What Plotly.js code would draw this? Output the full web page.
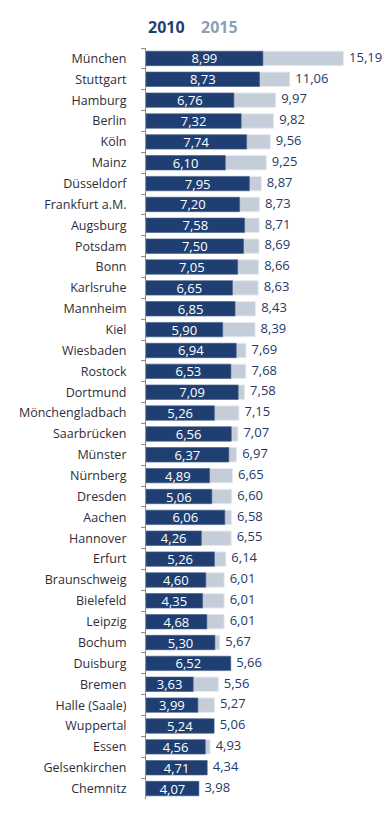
<!DOCTYPE html>
<html>
<head>
<meta charset="utf-8">
<script src="https://cdn.plot.ly/plotly-3.0.1.min.js"></script>
<style>html,body{margin:0;padding:0;background:#fff;}#chart{width:390px;height:813px;}</style>
</head>
<body>
<div id="chart"></div>
<script>
const cities = ["München","Stuttgart","Hamburg","Berlin","Köln","Mainz","Düsseldorf","Frankfurt a.M.","Augsburg","Potsdam","Bonn","Karlsruhe","Mannheim","Kiel","Wiesbaden","Rostock","Dortmund","Mönchengladbach","Saarbrücken","Münster","Nürnberg","Dresden","Aachen","Hannover","Erfurt","Braunschweig","Bielefeld","Leipzig","Bochum","Duisburg","Bremen","Halle (Saale)","Wuppertal","Essen","Gelsenkirchen","Chemnitz"];
const values2010 = [8.99,8.73,6.76,7.32,7.74,6.10,7.95,7.20,7.58,7.50,7.05,6.65,6.85,5.90,6.94,6.53,7.09,5.26,6.56,6.37,4.89,5.06,6.06,4.26,5.26,4.60,4.35,4.68,5.30,6.52,3.63,3.99,5.24,4.56,4.71,4.07];
const values2015 = [15.19,11.06,9.97,9.82,9.56,9.25,8.87,8.73,8.71,8.69,8.66,8.63,8.43,8.39,7.69,7.68,7.58,7.15,7.07,6.97,6.65,6.60,6.58,6.55,6.14,6.01,6.01,6.01,5.67,5.66,5.56,5.27,5.06,4.93,4.34,3.98];
const seriesNames = ["2010","2015"];

const navy = "#1f3f72";
const light = "#c5cdd9";
const font = "Open Sans, Noto Sans, sans-serif";

const labelPos = values2015.map((v,i)=>Math.max(v, values2010[i]));
const label2015 = values2015.map(v=>'\u2009 ' + v.toFixed(2).replace('.', ','));

const traces = [
  {type:'bar', orientation:'h', name:seriesNames[1], y:cities, x:values2015,
   marker:{color:light, line:{color:'#e6eaf0', width:1}}, hoverinfo:'x+y'},
  {type:'bar', orientation:'h', name:seriesNames[0], y:cities, x:values2010,
   marker:{color:navy, line:{color:'#4a6088', width:0.6}},
   texttemplate:'%{x:.2f}', textposition:'inside', insidetextanchor:'middle',
   constraintext:'none', textangle:0,
   textfont:{color:'#ffffff', size:13, family:font}, hoverinfo:'x+y'},
  {type:'scatter', mode:'text', y:cities, x:labelPos, text:label2015,
   textposition:'middle right', textfont:{color:'#1f3a66', size:13, family:font},
   cliponaxis:false, hoverinfo:'skip', showlegend:false}
];

const layout = {
  width:390, height:813,
  margin:{l:146, r:40, t:48, b:14},
  barmode:'overlay', bargap:0.31,
  separators:',.',
  showlegend:false,
  uniformtext:{mode:false},
  paper_bgcolor:'#fff', plot_bgcolor:'#fff',
  font:{family:font, size:12, color:'#333'},
  xaxis:{range:[0,15.69], visible:false, fixedrange:true},
  yaxis:{range:[cities.length-0.5, -0.5], autorange:false, type:'category', showline:true, linecolor:'#8c8c8c', linewidth:1,
         ticks:'outside', tickson:'boundaries', ticklen:4, tickcolor:'#8c8c8c',
         ticklabelstandoff:16, tickfont:{size:12.5, color:'#2e2e38', family:font},
         showgrid:false, zeroline:false},
  annotations:[
    {text:'<b>'+seriesNames[0]+'</b>', xref:'paper', yref:'paper', x:0, y:1, yshift:21, xanchor:'left', yanchor:'middle', showarrow:false, font:{size:16, color:navy, family:font}},
    {text:'<b>'+seriesNames[1]+'</b>', xref:'paper', yref:'paper', x:0, y:1, xshift:53, yshift:21, xanchor:'left', yanchor:'middle', showarrow:false, font:{size:16, color:'#8a9fb8', family:font}}
  ]
};
Plotly.newPlot('chart', traces, layout, {displayModeBar:false, staticPlot:true});
</script>
</body>
</html>
